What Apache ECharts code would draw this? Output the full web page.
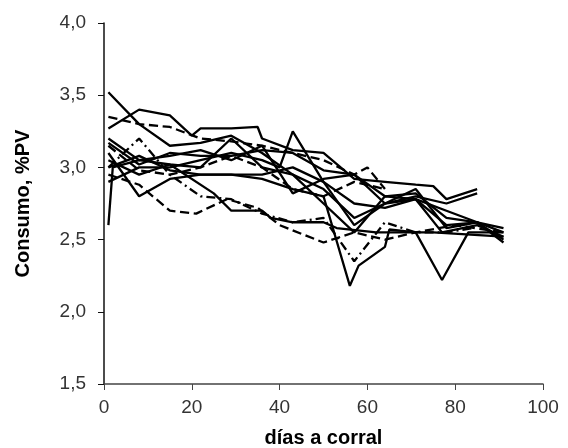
<!DOCTYPE html>
<html>
<head>
<meta charset="utf-8">
<script src="https://cdn.jsdelivr.net/npm/echarts@6/dist/echarts.min.js"></script>
<style>
html,body{margin:0;padding:0;background:#fff;}
#main{width:568px;height:448px;}
</style>
</head>
<body>
<div id="main"></div>
<script>
// días a corral y consumo (%PV) de cada lote
var dias1 = [1,8,15,22,29,36,43,50,57,64,71,78,85,91];
var cons1 = [3.52,3.30,3.15,3.17,3.22,3.10,2.95,2.85,2.65,2.75,2.78,2.60,2.62,2.55];
var dias2 = [1,8,15,20,22,29,35,36,43,50,57,64,71,75,78,85];
var cons2 = [3.27,3.40,3.36,3.22,3.27,3.27,3.28,3.20,3.12,3.10,2.92,2.90,2.88,2.87,2.78,2.85];
var dias3 = [1,8,15,22,29,36,43,50,57,60,64];
var cons3 = [3.35,3.30,3.28,3.20,3.18,3.15,3.10,3.05,2.95,3.00,2.85];
var dias4 = [1,8,15,22,29,36,43,50,57,64,71,78,85,91];
var cons4 = [3.17,3.02,3.10,3.08,3.08,3.12,3.10,2.98,2.95,2.80,2.82,2.65,2.62,2.50];
var dias5 = [1,2,8,15,22,29,36,43,50,57,64,71,77,85,91];
var cons5 = [2.60,3.00,3.05,3.02,3.00,3.20,3.00,2.95,2.75,2.55,2.80,2.78,2.55,2.60,2.52];
var dias6 = [1,8,15,22,29,36,43,50,56,58,64,65,71,77,83,91];
var cons6 = [3.10,2.80,2.92,2.95,2.95,2.92,2.85,2.80,2.18,2.32,2.45,2.57,2.55,2.22,2.55,2.55];
var dias7 = [1,8,15,21,28,35,40,50,57,64,71,80,91];
var cons7 = [2.95,2.88,2.70,2.68,2.78,2.72,2.60,2.48,2.55,2.50,2.55,2.60,2.55];
var dias8 = [1,8,15,22,29,36,43,50,57,64,71,78,84];
var cons8 = [3.00,3.20,2.95,2.80,2.78,2.68,2.62,2.65,2.35,2.62,2.55,2.55,2.58];
var dias9 = [1,8,15,25,29,36,38,43,50,53,62,70,75,91];
var cons9 = [3.05,2.95,3.02,2.82,2.70,2.70,2.65,2.62,2.62,2.58,2.55,2.55,2.55,2.52];
var dias10 = [1,8,15,22,29,36,43,50,57,64,71,78,85,91];
var cons10 = [3.00,3.08,2.98,2.95,2.95,2.95,3.00,2.90,2.75,2.72,2.78,2.70,2.62,2.48];
var dias11 = [1,8,15,22,29,36,40,43,50,57,64,71,78,85];
var cons11 = [2.90,3.00,3.00,3.05,3.10,3.05,3.00,3.25,2.90,2.60,2.75,2.80,2.75,2.82];
var dias12 = [1,8,15,22,29,36,43,50,57,64];
var cons12 = [3.15,2.98,2.95,3.00,3.08,3.00,2.85,2.80,2.90,2.85];
var dias13 = [1,8,15,22,29,36,43,50,57,64,71,78,85,91];
var cons13 = [3.20,3.05,3.08,3.12,3.05,3.15,2.82,2.92,2.95,2.75,2.85,2.58,2.62,2.58];

var lotesDias = [dias1,dias2,dias3,dias4,dias5,dias6,dias7,dias8,dias9,dias10,dias11,dias12,dias13];
var lotesCons = [cons1,cons2,cons3,cons4,cons5,cons6,cons7,cons8,cons9,cons10,cons11,cons12,cons13];
var tipoLinea = ['solid','solid','dashed','solid','solid','solid','dashed',[9,4,2,4],'solid','solid','solid','dashed','solid'];

function armarSerie(i)
{
	var puntos = [];
	for(var k=0;k<lotesDias[i].length;k++)
	{
		puntos.push([lotesDias[i][k], lotesCons[i][k]]);
	}
	return {
		type:'line',
		data:puntos,
		showSymbol:false,
		symbol:'none',
		silent:true,
		lineStyle:{color:'#000',width:2.3,type:tipoLinea[i]}
	};
}

var series = [];
for(var i=0;i<lotesDias.length;i++)
{
	series.push(armarSerie(i));
}

var myChart = echarts.init(document.getElementById('main'));
myChart.setOption({
	animation:false,
	backgroundColor:'#fff',
	grid:{left:104,right:25,top:23,bottom:64,containLabel:false,outerBoundsMode:'none'},
	xAxis:{
		type:'value',min:0,max:100,interval:20,
		name:'días a corral',nameLocation:'middle',nameGap:44,
		nameTextStyle:{fontFamily:'Liberation Sans',fontSize:20,fontWeight:'bold',color:'#000'},
		axisLine:{lineStyle:{color:'#444',width:1.5}},
		axisTick:{show:true,length:6,lineStyle:{color:'#444'}},
		axisLabel:{fontFamily:'Liberation Sans',fontSize:19,color:'#333',margin:14},
		splitLine:{show:false}
	},
	yAxis:{
		type:'value',min:1.5,max:4,interval:0.5,
		name:'Consumo, %PV',nameLocation:'middle',nameGap:71,
		nameTextStyle:{fontFamily:'Liberation Sans',fontSize:20,fontWeight:'bold',color:'#000'},
		axisLine:{show:true,lineStyle:{color:'#111',width:1.5}},
		axisTick:{show:true,length:6,lineStyle:{color:'#111'}},
		axisLabel:{fontFamily:'Liberation Sans',fontSize:19,color:'#333',margin:18,
			formatter:function(v){return v.toFixed(1).replace('.',',');}},
		splitLine:{show:false}
	},
	series:series
});
</script>
</body>
</html>
